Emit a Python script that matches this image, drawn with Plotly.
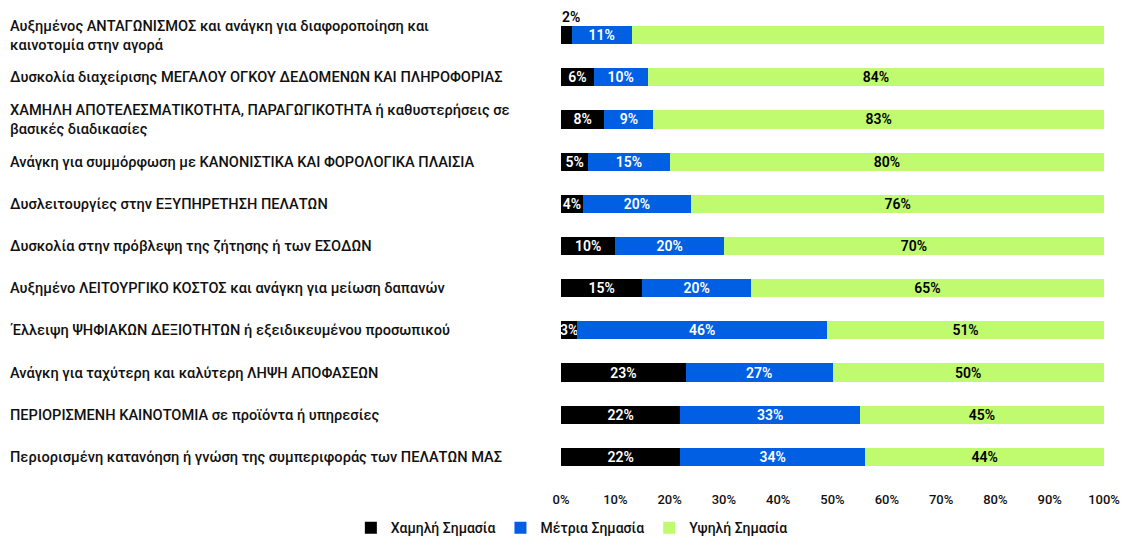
import plotly.graph_objects as go

categories = [
    "Αυξημένος ΑΝΤΑΓΩΝΙΣΜΟΣ και ανάγκη για διαφοροποίηση και<br>καινοτομία στην αγορά",
    "Δυσκολία διαχείρισης ΜΕΓΑΛΟΥ ΟΓΚΟΥ ΔΕΔΟΜΕΝΩΝ ΚΑΙ ΠΛΗΡΟΦΟΡΙΑΣ",
    "ΧΑΜΗΛΗ ΑΠΟΤΕΛΕΣΜΑΤΙΚΟΤΗΤΑ, ΠΑΡΑΓΩΓΙΚΟΤΗΤΑ ή καθυστερήσεις σε<br>βασικές διαδικασίες",
    "Ανάγκη για συμμόρφωση με ΚΑΝΟΝΙΣΤΙΚΑ ΚΑΙ ΦΟΡΟΛΟΓΙΚΑ ΠΛΑΙΣΙΑ",
    "Δυσλειτουργίες στην ΕΞΥΠΗΡΕΤΗΣΗ ΠΕΛΑΤΩΝ",
    "Δυσκολία στην πρόβλεψη της ζήτησης ή των ΕΣΟΔΩΝ",
    "Αυξημένο ΛΕΙΤΟΥΡΓΙΚΟ ΚΟΣΤΟΣ και ανάγκη για μείωση δαπανών",
    "Έλλειψη ΨΗΦΙΑΚΩΝ ΔΕΞΙΟΤΗΤΩΝ ή εξειδικευμένου προσωπικού",
    "Ανάγκη για ταχύτερη και καλύτερη ΛΗΨΗ ΑΠΟΦΑΣΕΩΝ",
    "ΠΕΡΙΟΡΙΣΜΕΝΗ ΚΑΙΝΟΤΟΜΙΑ σε προϊόντα ή υπηρεσίες",
    "Περιορισμένη κατανόηση ή γνώση της συμπεριφοράς των ΠΕΛΑΤΩΝ ΜΑΣ",
]
low = [2, 6, 8, 5, 4, 10, 15, 3, 23, 22, 22]
medium = [11, 10, 9, 15, 20, 20, 20, 46, 27, 33, 34]
high = [87, 84, 83, 80, 76, 70, 65, 51, 50, 45, 44]

series_names = ["Χαμηλή Σημασία", "Μέτρια Σημασία", "Υψηλή Σημασία"]
colors = ["#000000", "#005FE3", "#BFFA6F"]
text_colors = ["#FFFFFF", "#FFFFFF", "#000000"]
tick_vals = [0, 10, 20, 30, 40, 50, 60, 70, 80, 90, 100]
tick_text = [f"{v}%" for v in tick_vals]

FONT = "Roboto"
ids = list(range(len(categories)))

# the page body has an 8px default margin; the figure is sized to fill the window
W, H = 1120, 528
plot_left, plot_right = 553, 1096
plot_top, plot_bottom = 6, 470
pw = plot_right - plot_left
ph = plot_bottom - plot_top

fig = go.Figure()
for name, vals, col, tcol in zip(series_names, [low, medium, high], colors, text_colors):
    texts = [f"{v}%" for v in vals]
    if name == series_names[0]:
        texts[0] = ""  # shown above the bar instead
    if name == series_names[2]:
        texts[0] = ""  # no label in the original
    fig.add_trace(go.Bar(
        y=ids, x=vals, name=name, orientation="h",
        marker=dict(color=col, line=dict(width=0)),
        text=texts, textposition="inside", insidetextanchor="middle", textangle=0,
        textfont=dict(family=FONT, size=14, color=tcol, weight=600),
        hoverinfo="skip",
    ))

# label of the smallest segment placed above its bar
fig.add_annotation(x=0, y=ids[0], xref="x", yref="y", text=f"{low[0]}%",
                   showarrow=False, xanchor="left", yanchor="middle", yshift=18,
                   borderpad=0,
                   font=dict(family=FONT, size=14, color="#000000", weight=600))

for i, c in enumerate(categories):
    fig.add_annotation(x=(0 - plot_left) / pw, y=i, xref="paper", yref="y",
                       text=c, showarrow=False, xanchor="left", yanchor="middle",
                       align="left",
                       font=dict(family=FONT, size=14.6, color="#111111", weight=500))

fig.update_layout(
    width=W, height=H,
    barmode="stack", bargap=0.57,
    paper_bgcolor="white", plot_bgcolor="white",
    margin=dict(l=plot_left, r=W - plot_right, t=plot_top, b=H - plot_bottom,
                autoexpand=False),
    uniformtext=dict(minsize=14, mode="show"),
    font=dict(family=FONT, size=12, color="#111111"),
    xaxis=dict(range=[0, 100], tickmode="array", tickvals=tick_vals, ticktext=tick_text,
               showgrid=False, zeroline=False, showline=False, automargin=False,
               ticks="outside", ticklen=9, tickcolor="rgba(0,0,0,0)",
               tickfont=dict(family=FONT, size=13, color="#111111", weight=500)),
    yaxis=dict(range=[10.5, -0.5], showticklabels=False, showgrid=False,
               zeroline=False, showline=False, automargin=False),
    legend=dict(orientation="h", x=0.02, xanchor="center", y=-0.108, yanchor="middle",
                font=dict(family=FONT, size=14, color="#111111", weight=500),
                itemwidth=30, traceorder="normal"),
    showlegend=True,
)

fig.write_html("out.html")
